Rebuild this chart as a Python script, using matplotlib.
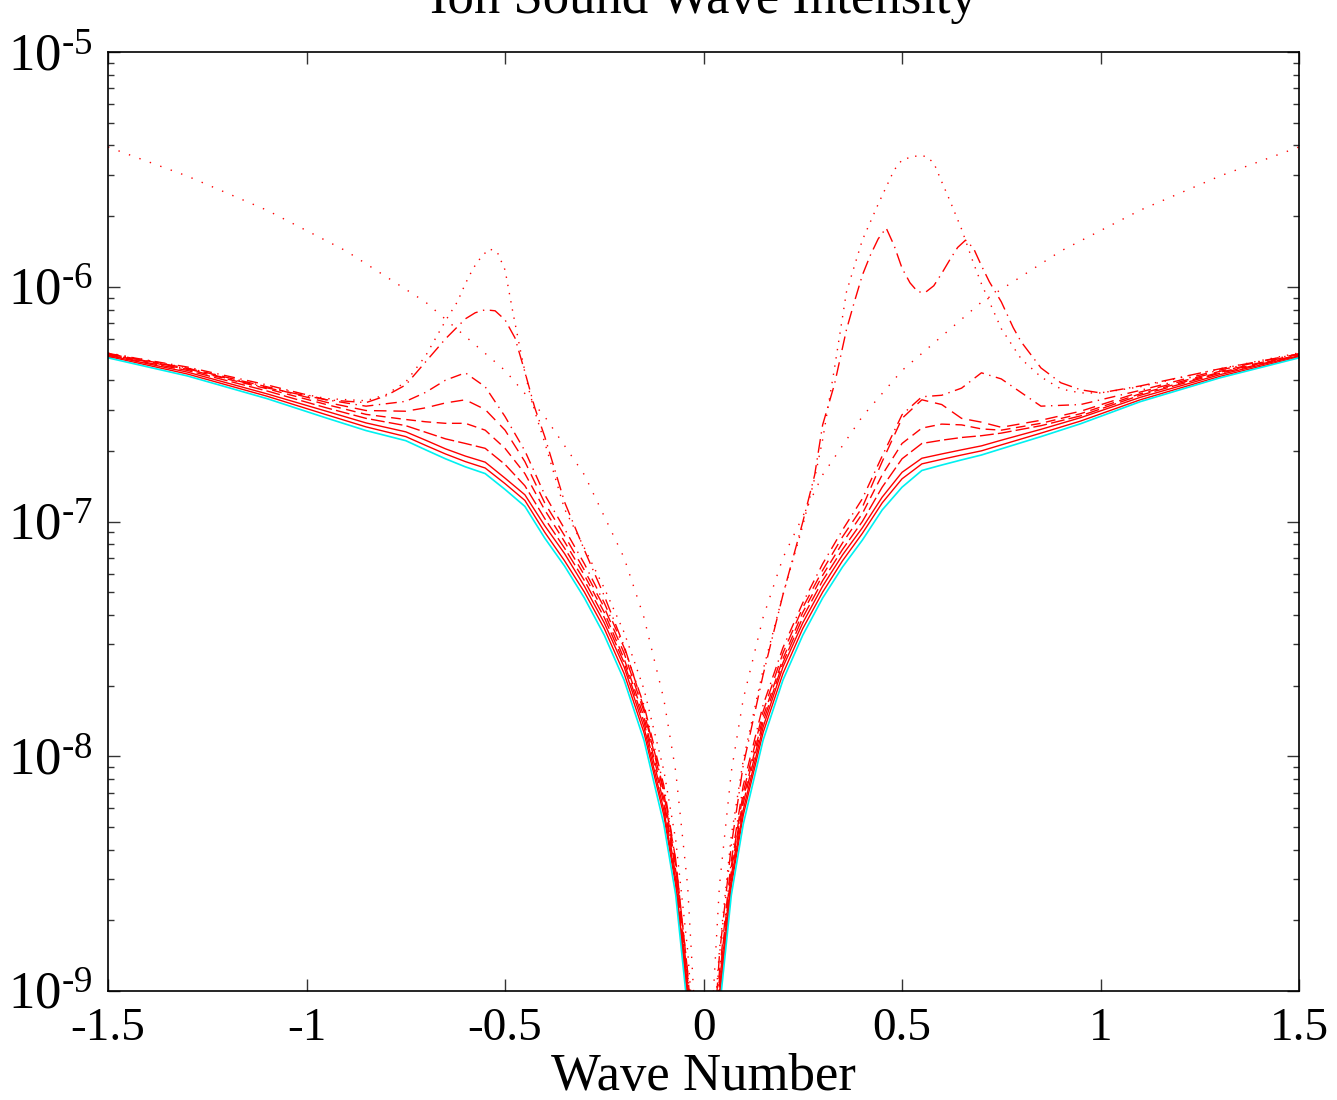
import matplotlib
matplotlib.use("Agg")
from matplotlib import pyplot as plt
from matplotlib.ticker import FixedLocator, FixedFormatter, LogLocator, NullLocator

# shared wave-number grid for the smooth curves
k = [-1.5, -1.3, -1.1, -0.95, -0.85, -0.75, -0.7, -0.65, -0.6, -0.55, -0.5, -0.45,
     -0.4, -0.35, -0.3, -0.25, -0.2, -0.15, -0.1, -0.07, -0.04, -0.02,
     0.02, 0.04, 0.07, 0.1, 0.15, 0.2, 0.25, 0.3, 0.35, 0.4, 0.45, 0.5,
     0.55, 0.6, 0.65, 0.7, 0.75, 0.85, 0.95, 1.1, 1.3, 1.5]

cyan_0 = [4.98e-7, 4.17e-7, 3.34e-7, 2.76e-7, 2.44e-7, 2.21e-7, 2.02e-7, 1.85e-7, 1.71e-7, 1.60e-7, 1.37e-7, 1.16e-7,
          8.5e-8, 6.46e-8, 4.72e-8, 3.28e-8, 2.11e-8, 1.17e-8, 5.13e-9, 2.56e-9, 8.3e-10, 3.4e-10,
          3.4e-10, 8.3e-10, 2.56e-9, 5.13e-9, 1.17e-8, 2.11e-8, 3.28e-8, 4.72e-8, 6.40e-8, 8.33e-8, 1.12e-7, 1.40e-7,
          1.65e-7, 1.74e-7, 1.83e-7, 1.92e-7, 2.04e-7, 2.30e-7, 2.61e-7, 3.24e-7, 4.09e-7, 4.98e-7]
solid_1 = [5.05e-7, 4.25e-7, 3.42e-7, 2.85e-7, 2.53e-7, 2.30e-7, 2.11e-7, 1.94e-7, 1.80e-7, 1.69e-7, 1.45e-7, 1.23e-7,
           9.0e-8, 6.8e-8, 5.0e-8, 3.5e-8, 2.25e-8, 1.26e-8, 5.6e-9, 2.8e-9, 9.2e-10, 3.7e-10,
           3.7e-10, 9.2e-10, 2.8e-9, 5.6e-9, 1.26e-8, 2.25e-8, 3.5e-8, 5.0e-8, 6.8e-8, 8.9e-8, 1.20e-7, 1.52e-7,
           1.76e-7, 1.84e-7, 1.92e-7, 2.0e-7, 2.12e-7, 2.38e-7, 2.68e-7, 3.30e-7, 4.15e-7, 5.03e-7]
solid_2 = [5.1e-7, 4.33e-7, 3.5e-7, 2.95e-7, 2.63e-7, 2.41e-7, 2.22e-7, 2.04e-7, 1.90e-7, 1.79e-7, 1.53e-7, 1.30e-7,
           9.6e-8, 7.3e-8, 5.3e-8, 3.7e-8, 2.4e-8, 1.33e-8, 5.9e-9, 2.95e-9, 9.7e-10, 3.9e-10,
           3.9e-10, 9.7e-10, 2.95e-9, 5.9e-9, 1.33e-8, 2.4e-8, 3.7e-8, 5.3e-8, 7.2e-8, 9.4e-8, 1.27e-7, 1.62e-7,
           1.86e-7, 1.94e-7, 2.02e-7, 2.10e-7, 2.22e-7, 2.47e-7, 2.77e-7, 3.38e-7, 4.22e-7, 5.08e-7]
dash_3 = [5.12e-7, 4.4e-7, 3.6e-7, 3.05e-7, 2.75e-7, 2.56e-7, 2.40e-7, 2.25e-7, 2.15e-7, 2.05e-7, 1.75e-7, 1.42e-7,
          1.03e-7, 7.7e-8, 5.6e-8, 3.9e-8, 2.5e-8, 1.4e-8, 6.3e-9, 3.1e-9, 1.02e-9, 4.0e-10,
          4.0e-10, 1.02e-9, 3.1e-9, 6.3e-9, 1.4e-8, 2.5e-8, 3.9e-8, 5.6e-8, 7.6e-8, 1.0e-7, 1.40e-7, 1.85e-7,
          2.15e-7, 2.22e-7, 2.28e-7, 2.32e-7, 2.38e-7, 2.56e-7, 2.82e-7, 3.45e-7, 4.28e-7, 5.1e-7]
dash_4 = [5.15e-7, 4.45e-7, 3.68e-7, 3.15e-7, 2.86e-7, 2.72e-7, 2.66e-7, 2.62e-7, 2.62e-7, 2.45e-7, 2.05e-7, 1.6e-7,
          1.12e-7, 8.2e-8, 5.9e-8, 4.1e-8, 2.6e-8, 1.47e-8, 6.6e-9, 3.25e-9, 1.07e-9, 4.2e-10,
          4.2e-10, 1.07e-9, 3.25e-9, 6.6e-9, 1.47e-8, 2.6e-8, 4.1e-8, 5.9e-8, 8.1e-8, 1.08e-7, 1.58e-7, 2.15e-7,
          2.5e-7, 2.6e-7, 2.58e-7, 2.48e-7, 2.45e-7, 2.62e-7, 2.88e-7, 3.5e-7, 4.32e-7, 5.12e-7]
dash_5 = [5.18e-7, 4.5e-7, 3.75e-7, 3.22e-7, 2.97e-7, 2.95e-7, 3.05e-7, 3.2e-7, 3.3e-7, 3.0e-7, 2.45e-7, 1.8e-7,
          1.2e-7, 8.7e-8, 6.2e-8, 4.3e-8, 2.75e-8, 1.55e-8, 7.0e-9, 3.4e-9, 1.12e-9, 4.4e-10,
          4.4e-10, 1.12e-9, 3.4e-9, 7.0e-9, 1.55e-8, 2.75e-8, 4.3e-8, 6.2e-8, 8.6e-8, 1.15e-7, 1.8e-7, 2.75e-7,
          3.3e-7, 3.15e-7, 2.75e-7, 2.65e-7, 2.52e-7, 2.7e-7, 2.95e-7, 3.56e-7, 4.36e-7, 5.15e-7]
dashdot_6 = [5.2e-7, 4.55e-7, 3.82e-7, 3.3e-7, 3.1e-7, 3.25e-7, 3.55e-7, 4.0e-7, 4.3e-7, 3.75e-7, 2.8e-7, 2.0e-7,
             1.3e-7, 9.3e-8, 6.6e-8, 4.5e-8, 2.9e-8, 1.65e-8, 7.5e-9, 3.6e-9, 1.2e-9, 4.6e-10,
             4.6e-10, 1.2e-9, 3.6e-9, 7.5e-9, 1.65e-8, 2.9e-8, 4.5e-8, 6.6e-8, 9.2e-8, 1.25e-7, 1.9e-7, 2.85e-7,
             3.4e-7, 3.45e-7, 3.7e-7, 4.3e-7, 4.05e-7, 3.1e-7, 3.15e-7, 3.62e-7, 4.42e-7, 5.18e-7]

# dash-dot curve with the double peak on the right
k7 = [-1.5, -1.3, -1.1, -0.95, -0.85, -0.8, -0.75, -0.7, -0.65, -0.6, -0.575, -0.55, -0.525, -0.5,
      -0.475, -0.45, -0.425, -0.4, -0.35, -0.3, -0.25, -0.2, -0.15, -0.1, -0.07, -0.04, -0.02,
      0.02, 0.04, 0.07, 0.1, 0.15, 0.2, 0.25, 0.28, 0.3, 0.33, 0.36, 0.38, 0.4, 0.42, 0.44, 0.46,
      0.48, 0.5, 0.52, 0.54, 0.56, 0.58, 0.6, 0.62, 0.64, 0.66, 0.68, 0.7, 0.72, 0.75, 0.78, 0.8,
      0.85, 0.9, 0.95, 1.0, 1.1, 1.3, 1.5]
dashdot_7 = [5.18e-7, 4.47e-7, 3.71e-7, 3.30e-7, 3.21e-7, 3.43e-7, 3.82e-7, 4.79e-7, 6.0e-7, 7.3e-7, 7.75e-7,
             7.98e-7, 7.9e-7, 7.23e-7, 6.06e-7, 4.34e-7, 3.05e-7, 2.30e-7, 1.21e-7, 7.55e-8, 4.82e-8, 2.95e-8,
             1.6e-8, 7.15e-9, 3.6e-9, 1.2e-9, 4.4e-10,
             4.4e-10, 1.42e-9, 4.17e-9, 9.15e-9, 2.22e-8, 4.87e-8, 9.95e-8, 1.58e-7, 2.58e-7, 3.85e-7, 6.56e-7,
             8.63e-7, 1.12e-6, 1.36e-6, 1.60e-6, 1.78e-6, 1.50e-6, 1.2e-6, 1.04e-6, 9.5e-7, 9.5e-7, 1.01e-6,
             1.14e-6, 1.30e-6, 1.47e-6, 1.58e-6, 1.46e-6, 1.23e-6, 1.05e-6, 8.63e-7, 6.70e-7, 5.83e-7, 4.51e-7,
             3.90e-7, 3.64e-7, 3.53e-7, 3.78e-7, 4.47e-7, 5.18e-7]

# dotted curve with the tallest peaks
k8 = [-1.5, -1.3, -1.1, -0.95, -0.85, -0.8, -0.75, -0.7, -0.65, -0.62, -0.6, -0.58, -0.56, -0.54, -0.52,
      -0.5, -0.48, -0.46, -0.44, -0.42, -0.4, -0.35, -0.3, -0.25, -0.2, -0.15, -0.1, -0.07, -0.04, -0.02,
      0.02, 0.04, 0.07, 0.1, 0.15, 0.2, 0.25, 0.28, 0.3, 0.33, 0.36, 0.4, 0.44, 0.48, 0.5, 0.53, 0.56,
      0.58, 0.6, 0.62, 0.65, 0.68, 0.7, 0.75, 0.8, 0.85, 0.9, 0.95, 1.0, 1.1, 1.3, 1.5]
dotted_8 = [5.23e-7, 4.51e-7, 3.75e-7, 3.34e-7, 3.27e-7, 3.47e-7, 3.93e-7, 5.08e-7, 7.16e-7, 8.63e-7, 1.03e-6,
            1.20e-6, 1.34e-6, 1.45e-6, 1.41e-6, 1.18e-6, 7.75e-7, 5.23e-7, 3.64e-7, 2.76e-7, 2.17e-7, 1.13e-7,
            7.7e-8, 5.2e-8, 3.37e-8, 1.93e-8, 8.7e-9, 4.39e-9, 1.49e-9, 5.1e-10,
            5.1e-10, 1.49e-9, 4.6e-9, 9.6e-9, 2.33e-8, 4.87e-8, 9.6e-8, 1.53e-7, 2.23e-7, 4.51e-7, 9.5e-7,
            1.58e-6, 2.25e-6, 3.14e-6, 3.47e-6, 3.6e-6, 3.6e-6, 3.37e-6, 2.80e-6, 2.34e-6, 1.76e-6, 1.26e-6,
            1.03e-6, 6.63e-7, 4.93e-7, 4.13e-7, 3.67e-7, 3.53e-7, 3.53e-7, 3.75e-7, 4.47e-7, 5.23e-7]

# dotted V-shaped curve
k9 = [-1.5, -1.3, -1.1, -0.9, -0.7, -0.5, -0.4, -0.3, -0.2, -0.15, -0.1, -0.07, -0.04, -0.02,
      0.02, 0.04, 0.07, 0.1, 0.15, 0.2, 0.3, 0.4, 0.5, 0.7, 0.9, 1.1, 1.3, 1.5]
dotted_9 = [3.94e-6, 2.96e-6, 2.12e-6, 1.42e-6, 8.6e-7, 4.4e-7, 2.8e-7, 1.58e-7, 7.0e-8, 3.9e-8, 1.75e-8,
            8.6e-9, 2.8e-9, 7.0e-10,
            7.0e-10, 2.8e-9, 8.6e-9, 1.75e-8, 3.9e-8, 7.0e-8, 1.58e-7, 2.8e-7, 4.4e-7, 8.6e-7, 1.42e-6,
            2.12e-6, 2.96e-6, 3.94e-6]

x_ticks = [-1.5, -1, -0.5, 0, 0.5, 1, 1.5]
x_tick_labels = ['-1.5', '-1', '-0.5', '0', '0.5', '1', '1.5']
y_ticks = [1e-9, 1e-8, 1e-7, 1e-6, 1e-5]
y_tick_labels = [r'$\mathregular{10^{\text{-}9}}$', r'$\mathregular{10^{\text{-}8}}$',
                 r'$\mathregular{10^{\text{-}7}}$', r'$\mathregular{10^{\text{-}6}}$',
                 r'$\mathregular{10^{\text{-}5}}$']

plt.rcParams['font.family'] = ['Liberation Serif', 'DejaVu Serif']
plt.rcParams['mathtext.fontset'] = 'custom'
plt.rcParams['mathtext.rm'] = 'Liberation Serif'
plt.rcParams['axes.unicode_minus'] = False

fig = plt.figure(figsize=(13.37, 11), dpi=100)
ax = fig.add_axes([0.0808, 0.0991, 0.8908, 0.8536])

red = '#ff0000'
lw = 1.0
ax.plot(k9, dotted_9, color=red, lw=lw, linestyle=(0, (1, 7)))
ax.plot(k8, dotted_8, color=red, lw=lw, linestyle=(0, (1, 5)))
ax.plot(k7, dashdot_7, color=red, lw=lw, linestyle=(0, (10, 4, 1, 4)))
ax.plot(k, dashdot_6, color=red, lw=lw, linestyle=(0, (8, 4, 1, 4)))
ax.plot(k, dash_5, color=red, lw=lw, linestyle=(0, (9, 5)))
ax.plot(k, dash_4, color=red, lw=lw, linestyle=(0, (7, 4)))
ax.plot(k, dash_3, color=red, lw=lw, linestyle=(0, (10, 3)))
ax.plot(k, solid_2, color=red, lw=lw, linestyle='-')
ax.plot(k, solid_1, color=red, lw=lw, linestyle='-')
ax.plot(k, cyan_0, color='#00f0f0', lw=1.2, linestyle='-')

ax.set_yscale('log')
ax.set_xlim(-1.5, 1.5)
ax.set_ylim(1e-9, 1e-5)

ax.xaxis.set_major_locator(FixedLocator(x_ticks))
ax.xaxis.set_major_formatter(FixedFormatter(x_tick_labels))
ax.xaxis.set_minor_locator(NullLocator())
ax.yaxis.set_major_locator(FixedLocator(y_ticks))
ax.yaxis.set_major_formatter(FixedFormatter(y_tick_labels))
ax.yaxis.set_minor_locator(LogLocator(base=10, subs=range(2, 10), numticks=20))

ax.tick_params(which='both', direction='in', top=True, right=True, labelsize=34, width=1.0, color='#333333')
ax.tick_params(which='major', length=8.5)
ax.tick_params(which='minor', length=4.5, labelleft=False)
ax.tick_params(axis='x', pad=12)
ax.tick_params(axis='y', pad=11, labelsize=38)
for s in ax.spines.values():
    s.set_linewidth(1.2)

ax.set_xlabel('Wave Number', fontsize=38, labelpad=2)
ax.set_title('Ion Sound Wave Intensity', fontsize=38, pad=28)

fig.savefig('out.png', dpi=100)
